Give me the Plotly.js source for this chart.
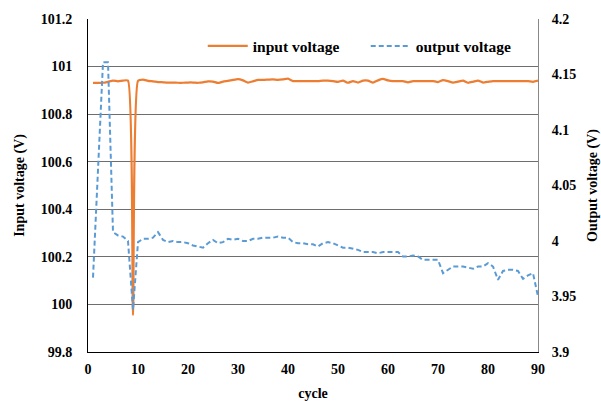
<!DOCTYPE html>
<html>
<head>
<meta charset="utf-8">
<script src="https://cdn.plot.ly/plotly-3.0.1.min.js"></script>
<style>html,body{margin:0;padding:0;background:#fff;}#chart{width:601px;height:401px;}</style>
</head>
<body>
<div id="chart"></div>
<script>
const cycles = [];
for (let i = 1; i <= 90; i++) cycles.push(i);

const inputVoltage = [
  100.932, 100.932, 100.932, 100.936, 100.941, 100.938, 100.941, 100.941, 99.955, 100.940,
  100.945, 100.940, 100.938, 100.935, 100.934, 100.933, 100.933, 100.932, 100.932, 100.933,
  100.933, 100.932, 100.934, 100.938, 100.937, 100.931, 100.937, 100.940, 100.944, 100.947,
  100.942, 100.933, 100.938, 100.944, 100.944, 100.945, 100.946, 100.944, 100.946, 100.949,
  100.939, 100.939, 100.939, 100.939, 100.939, 100.939, 100.941, 100.941, 100.939, 100.936,
  100.941, 100.932, 100.939, 100.933, 100.941, 100.941, 100.933, 100.942, 100.948, 100.942,
  100.939, 100.939, 100.939, 100.934, 100.939, 100.939, 100.939, 100.939, 100.939, 100.935,
  100.943, 100.939, 100.933, 100.937, 100.941, 100.932, 100.936, 100.941, 100.933, 100.936,
  100.939, 100.939, 100.939, 100.939, 100.939, 100.939, 100.939, 100.939, 100.936, 100.941
];

const outputVoltage = [
  3.967, 4.063, 4.161, 4.161, 4.008, 4.005, 4.004, 4.000, 3.938, 3.999,
  4.002, 4.002, 4.003, 4.008, 4.001, 3.999, 4.000, 3.999, 3.999, 3.998,
  3.996, 3.995, 3.994, 3.998, 4.001, 3.998, 3.999, 4.002, 4.001, 4.002,
  4.000, 4.000, 4.002, 4.002, 4.003, 4.003, 4.003, 4.004, 4.003, 4.003,
  3.999, 3.998, 3.998, 3.997, 3.997, 3.995, 3.998, 3.999, 3.998, 3.996,
  3.994, 3.994, 3.993, 3.992, 3.990, 3.990, 3.990, 3.989, 3.990, 3.990,
  3.990, 3.990, 3.986, 3.986, 3.987, 3.986, 3.983, 3.983, 3.983, 3.983,
  3.971, 3.974, 3.977, 3.977, 3.977, 3.976, 3.975, 3.977, 3.977, 3.980,
  3.977, 3.965, 3.973, 3.974, 3.974, 3.973, 3.966, 3.969, 3.971, 3.950
];

const xTicks = [0, 10, 20, 30, 40, 50, 60, 70, 80, 90];
const leftTicks = [99.8, 100, 100.2, 100.4, 100.6, 100.8, 101, 101.2];
const rightTicks = [3.9, 3.95, 4, 4.05, 4.1, 4.15, 4.2];

const serif = 'Liberation Serif, Times New Roman, serif';
const tickFont = {family: serif, size: 14, color: '#000', weight: 'bold'};
const titleFont = {family: serif, size: 14, color: '#000', weight: 'bold'};

const traces = [
  {
    x: cycles, y: inputVoltage, name: 'input voltage', type: 'scatter', mode: 'lines',
    line: {color: '#ED7D31', width: 2.25, shape: 'spline', smoothing: 0.5}, yaxis: 'y'
  },
  {
    x: cycles, y: outputVoltage, name: 'output voltage', type: 'scatter', mode: 'lines',
    line: {color: '#5B9BD5', width: 2, dash: '5px,3px'}, yaxis: 'y2'
  }
];

const layout = {
  width: 601, height: 401,
  margin: {l: 88, r: 63, t: 19, b: 49},
  paper_bgcolor: '#fff', plot_bgcolor: '#fff',
  showlegend: true,
  legend: {
    orientation: 'h', x: 0.255, xanchor: 'left', y: 0.918, yanchor: 'middle',
    font: {family: serif, size: 15.5, color: '#000', weight: 'bold'},
    bgcolor: 'rgba(0,0,0,0)', itemwidth: 40, entrywidth: 108
  },
  xaxis: {
    range: [0, 90], tickvals: xTicks, ticktext: xTicks.map(String),
    showgrid: false, zeroline: false, showline: true, linecolor: '#000', linewidth: 1,
    ticks: 'outside', ticklen: 4, tickcolor: 'rgba(0,0,0,0)',
    tickfont: tickFont,
    title: {text: 'cycle', font: titleFont, standoff: 12}
  },
  yaxis: {
    range: [99.8, 101.2], tickvals: leftTicks, ticktext: leftTicks.map(String),
    showgrid: true, gridcolor: '#6e6e6e', gridwidth: 1, zeroline: false,
    showline: true, linecolor: '#000', linewidth: 1,
    ticks: 'outside', ticklen: 12, tickcolor: 'rgba(0,0,0,0)',
    tickfont: tickFont,
    title: {text: 'Input voltage (V)', font: titleFont, standoff: 12}
  },
  yaxis2: {
    range: [3.9, 4.2], tickvals: rightTicks, ticktext: rightTicks.map(String),
    overlaying: 'y', side: 'right', showgrid: false, zeroline: false,
    showline: true, linecolor: '#888', linewidth: 1,
    ticks: 'outside', ticklen: 10, tickcolor: 'rgba(0,0,0,0)',
    tickfont: tickFont,
    title: {text: 'Output voltage (V)', font: titleFont, standoff: 14}
  }
};

Plotly.newPlot('chart', traces, layout, {displayModeBar: false, staticPlot: true});
</script>
</body>
</html>
